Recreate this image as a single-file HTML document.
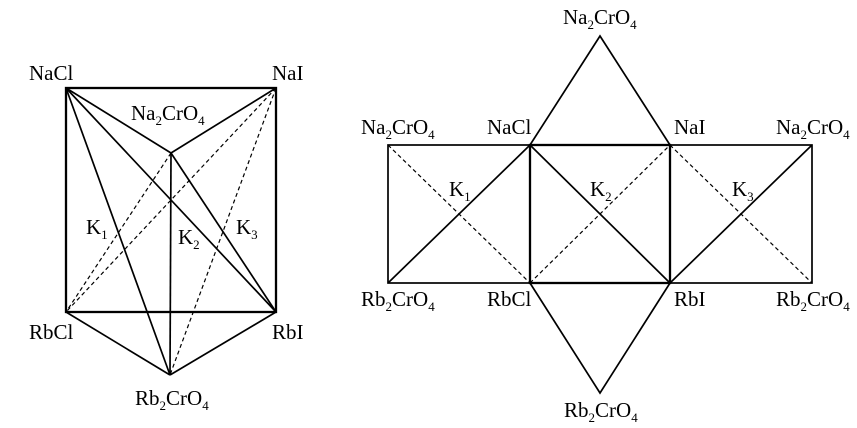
<!DOCTYPE html>
<html><head><style>
html,body{margin:0;padding:0;background:#fff;}
svg{display:block;}
text{font-family:"Liberation Serif",serif;font-size:21px;fill:#000;}
tspan.b{font-size:13px;}
.s{stroke:#000;stroke-width:2.3;fill:none;}
.t{stroke:#000;stroke-width:1.7;fill:none;}
.d{stroke:#000;stroke-width:1.2;stroke-dasharray:4,3;fill:none;}
</style></head><body>
<svg width="857" height="428" viewBox="0 0 857 428">
<!-- left -->
<rect x="66" y="88" width="210" height="224" class="s"/>
<line x1="66" y1="88" x2="171" y2="153" class="t"/>
<line x1="276" y1="88" x2="171" y2="153" class="t"/>
<line x1="171" y1="153" x2="170" y2="375" class="t"/>
<line x1="66" y1="312" x2="170" y2="375" class="t"/>
<line x1="276" y1="312" x2="170" y2="375" class="t"/>
<line x1="66" y1="88" x2="276" y2="312" class="t"/>
<line x1="66" y1="88" x2="170" y2="375" class="t"/>
<line x1="171" y1="153" x2="276" y2="312" class="t"/>
<line x1="171" y1="153" x2="66" y2="312" class="d"/>
<line x1="276" y1="88" x2="66" y2="312" class="d"/>
<line x1="276" y1="88" x2="170" y2="375" class="d"/>
<text x="29" y="80">NaCl</text>
<text x="272" y="80">NaI</text>
<text x="131" y="120">Na<tspan class="b" dy="5">2</tspan><tspan dy="-5">CrO</tspan><tspan class="b" dy="5">4</tspan></text>
<text x="86" y="234">K<tspan class="b" dy="5">1</tspan></text>
<text x="178" y="244">K<tspan class="b" dy="5">2</tspan></text>
<text x="236" y="234">K<tspan class="b" dy="5">3</tspan></text>
<text x="29" y="339">RbCl</text>
<text x="272" y="339">RbI</text>
<text x="135" y="405">Rb<tspan class="b" dy="5">2</tspan><tspan dy="-5">CrO</tspan><tspan class="b" dy="5">4</tspan></text>
<!-- right -->
<rect x="388" y="145" width="424" height="138" class="t"/>
<rect x="530" y="145" width="140" height="138" class="s"/>
<polyline points="530,145 600,36 670,145" class="t"/>
<polyline points="530,283 600,393 670,283" class="t"/>
<line x1="388" y1="283" x2="530" y2="145" class="t"/>
<line x1="388" y1="145" x2="530" y2="283" class="d"/>
<line x1="530" y1="145" x2="670" y2="283" class="t"/>
<line x1="530" y1="283" x2="670" y2="145" class="d"/>
<line x1="670" y1="283" x2="812" y2="145" class="t"/>
<line x1="670" y1="145" x2="812" y2="283" class="d"/>
<text x="563" y="24">Na<tspan class="b" dy="5">2</tspan><tspan dy="-5">CrO</tspan><tspan class="b" dy="5">4</tspan></text>
<text x="361" y="134">Na<tspan class="b" dy="5">2</tspan><tspan dy="-5">CrO</tspan><tspan class="b" dy="5">4</tspan></text>
<text x="487" y="134">NaCl</text>
<text x="674" y="134">NaI</text>
<text x="776" y="134">Na<tspan class="b" dy="5">2</tspan><tspan dy="-5">CrO</tspan><tspan class="b" dy="5">4</tspan></text>
<text x="449" y="196">K<tspan class="b" dy="5">1</tspan></text>
<text x="590" y="196">K<tspan class="b" dy="5">2</tspan></text>
<text x="732" y="196">K<tspan class="b" dy="5">3</tspan></text>
<text x="361" y="306">Rb<tspan class="b" dy="5">2</tspan><tspan dy="-5">CrO</tspan><tspan class="b" dy="5">4</tspan></text>
<text x="487" y="306">RbCl</text>
<text x="674" y="306">RbI</text>
<text x="776" y="306">Rb<tspan class="b" dy="5">2</tspan><tspan dy="-5">CrO</tspan><tspan class="b" dy="5">4</tspan></text>
<text x="564" y="417">Rb<tspan class="b" dy="5">2</tspan><tspan dy="-5">CrO</tspan><tspan class="b" dy="5">4</tspan></text>
</svg>
</body></html>
